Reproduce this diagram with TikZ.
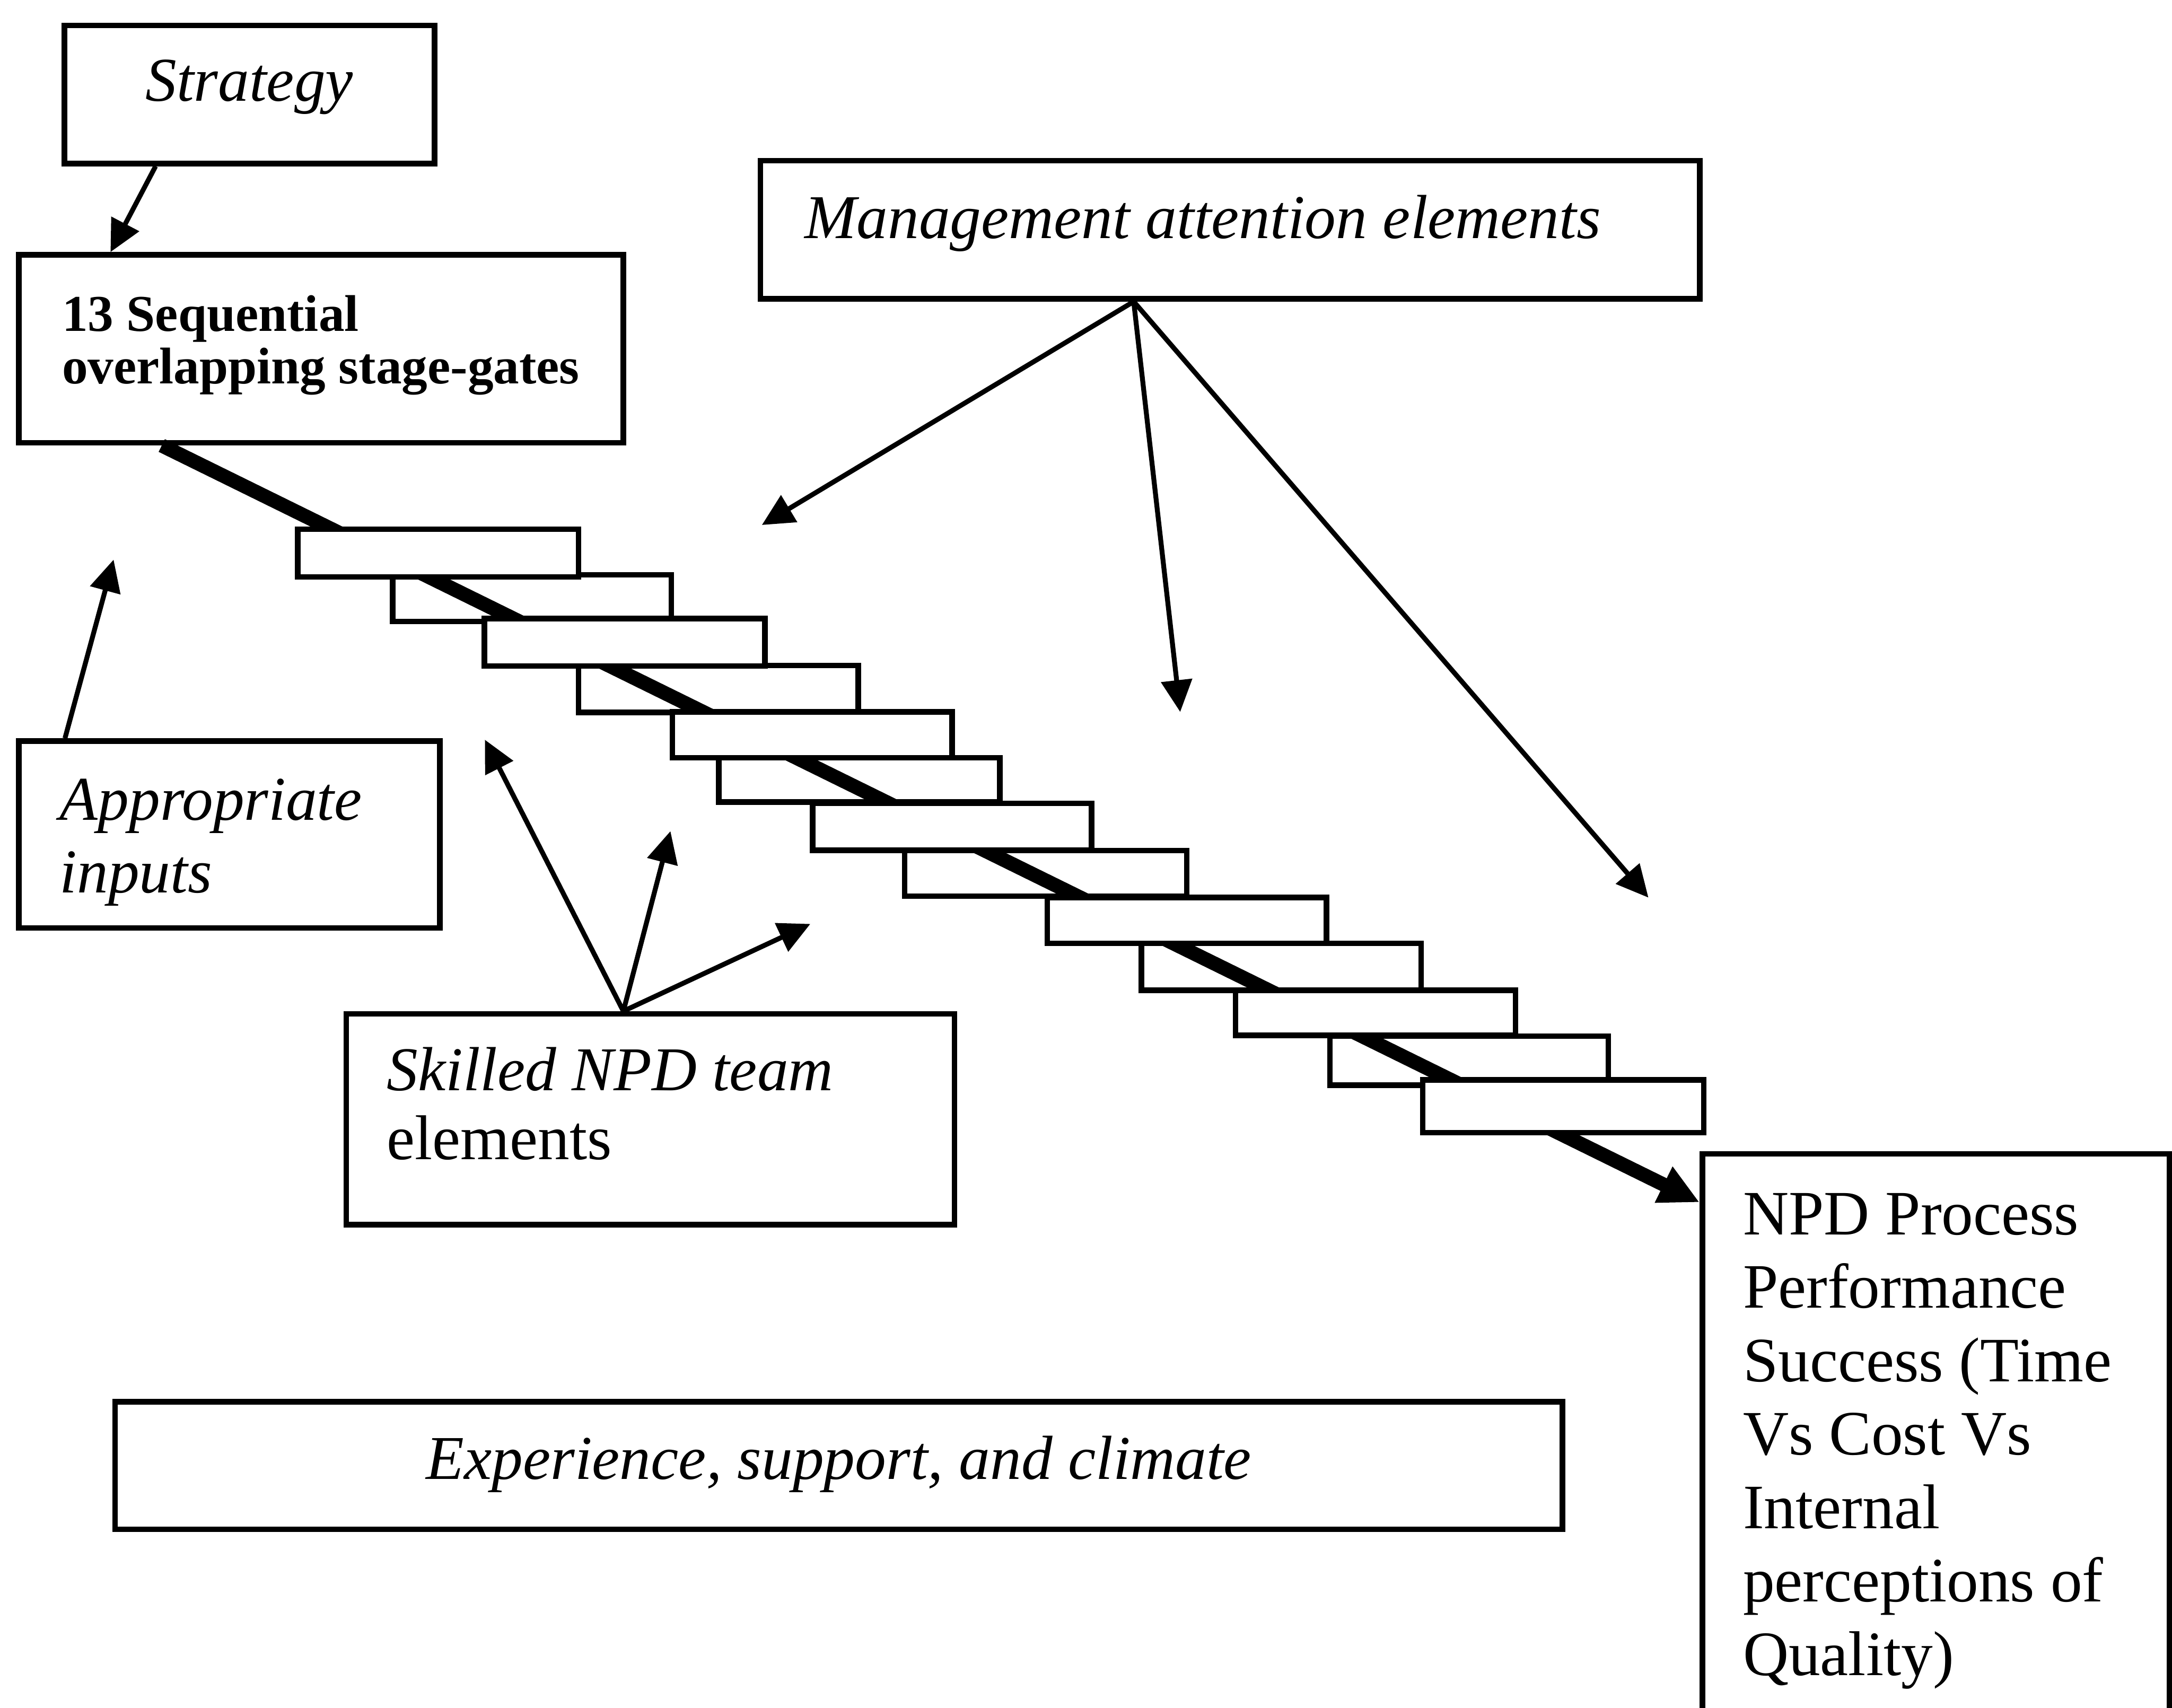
\documentclass[tikz,border=0pt]{standalone}
\usepackage{fontspec}
\setmainfont{Liberation Serif}
\usetikzlibrary{arrows.meta,fit,calc}

\begin{document}
\begin{tikzpicture}[x=0.02cm,y=-0.02cm,
  box/.style={draw, line width=2.3pt, inner sep=0pt, fill=white},
  tread/.style={draw, line width=2.3pt, inner sep=0pt, fill=white},
  itxt/.style={font=\fontsize{25.6pt}{30pt}\selectfont\itshape, inner sep=0pt},
  rtxt/.style={font=\fontsize{26pt}{30pt}\selectfont, inner sep=0pt},
  btxt/.style={font=\fontsize{21.2pt}{22pt}\selectfont\bfseries, inner sep=0pt},
  link/.style={line width=2pt, -{Triangle[length=0.46cm,width=0.44cm]}},
  flow/.style={line width=5.8pt, -{Triangle[length=0.58cm,width=0.54cm]}},
]
\clip (0,0) rectangle (1568,1233);
\fill[white] (0,0) rectangle (1568,1233);

% boxes
\node[box, fit={(46.5,18.3) (313.8,118)}] (strat) {};
\node[box, fit={(13.5,184) (450,319.6)}] (seq) {};
\node[box, fit={(549,116) (1227,215.7)}] (mgmt) {};
\node[box, fit={(13.5,535) (317.5,670)}] (inputs) {};
\node[box, fit={(250,732) (689,884)}] (team) {};
\node[box, fit={(83,1012) (1128,1104)}] (climate) {};
\node[box, fit={(1229,833) (1566,1300)}] (npd) {};

% texts
\node[itxt, anchor=base] (stratT) at (180,73) {Strategy};
\node[btxt, anchor=base west] (seqT1) at (44.5,239) {13 Sequential};
\node[btxt, anchor=base west] (seqT2) at (44.5,277) {overlapping stage-gates};
\node[itxt, anchor=base west] (mgmtT) at (580.7,172) {Management attention elements};
\node[itxt, anchor=base west] (inputsT1) at (42.8,592) {Appropriate};
\node[itxt, anchor=base west] (inputsT2) at (42.8,644.6) {inputs};
\node[itxt, anchor=base west] (teamT1) at (279,787.4) {Skilled NPD team};
\node[rtxt, anchor=base west] (teamT2) at (279,837) {elements};
\node[itxt, anchor=base] (climateT) at (605.5,1068) {Experience, support, and climate};
\node[rtxt, anchor=base west] (npdT1) at (1258,891.3) {NPD Process};
\node[rtxt, anchor=base west] (npdT2) at (1258,944.3) {Performance};
\node[rtxt, anchor=base west] (npdT3) at (1258,997.3) {Success (Time};
\node[rtxt, anchor=base west] (npdT4) at (1258,1050.3) {Vs Cost Vs};
\node[rtxt, anchor=base west] (npdT5) at (1258,1103.3) {Internal};
\node[rtxt, anchor=base west] (npdT6) at (1258,1156.3) {perceptions of};
\node[rtxt, anchor=base west] (npdT7) at (1258,1209.3) {Quality)};

% staircase: even treads lie under the flow line
\node[tread, fit={(283.5,415) (484.6,448.6)}] (s2) {};
\node[tread, fit={(417.7,480.4) (619.5,514.2)}] (s4) {};
\node[tread, fit={(519,547) (721.7,579)}] (s6) {};
\node[tread, fit={(653,614) (856.8,647)}] (s8) {};
\node[tread, fit={(824,681) (1026,715)}] (s10) {};
\node[tread, fit={(960,748) (1161,783.5)}] (s12) {};

% flow through the stage-gates
\draw[flow] ($(seq.south west)!0.239!(seq.south east)$) -- ($(npd.north west)+(0,37)$);

% odd treads cover the flow line
\node[tread, fit={(215,382) (417.7,416.5)}] (s1) {};
\node[tread, fit={(349.6,446.6) (552.3,480.8)}] (s3) {};
\node[tread, fit={(485.4,514) (687.4,547)}] (s5) {};
\node[tread, fit={(586.6,580) (788,613.8)}] (s7) {};
\node[tread, fit={(756,648) (957.6,681)}] (s9) {};
\node[tread, fit={(892,715) (1094,747.5)}] (s11) {};
\node[tread, fit={(1027,779.6) (1230,817.7)}] (s13) {};

% free arrow ends
\coordinate (inputsEnd) at (82,404);
\coordinate (teamEndA) at (350,534);
\coordinate (teamEndB) at (484,600);
\coordinate (teamEndC) at (585,667);
\coordinate (mgmtEndA) at (550,379);
\coordinate (mgmtEndB) at (852,514);
\coordinate (mgmtEndC) at (1190,648);

% connectors
\draw[link] ($(strat.south west)!0.25!(strat.south east)$) -- ($(seq.north west)!0.155!(seq.north east)$);
\draw[link] ($(inputs.north west)!0.115!(inputs.north east)$) -- (inputsEnd);
\coordinate (teamSrc) at ($(team.north west)!0.456!(team.north east)$);
\draw[link] (teamSrc) -- (teamEndA);
\draw[link] (teamSrc) -- (teamEndB);
\draw[link] (teamSrc) -- (teamEndC);
\coordinate (mgmtSrc) at ($(mgmt.south west)!0.398!(mgmt.south east)$);
\draw[link] (mgmtSrc) -- (mgmtEndA);
\draw[link] (mgmtSrc) -- (mgmtEndB);
\draw[link] (mgmtSrc) -- (mgmtEndC);
\end{tikzpicture}
\end{document}
